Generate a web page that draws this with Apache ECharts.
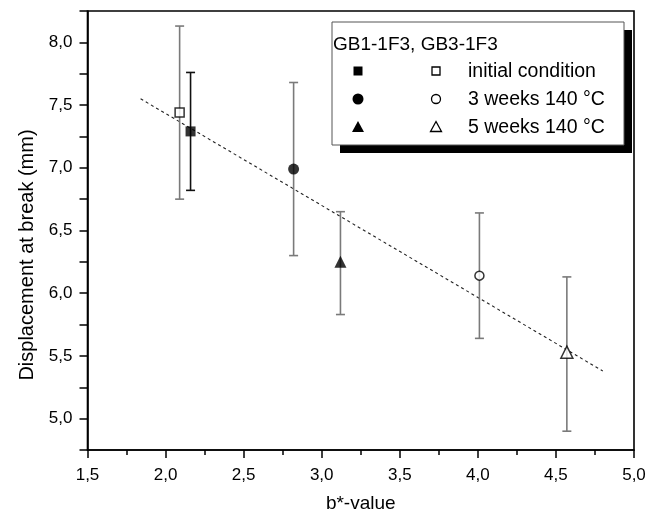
<!DOCTYPE html>
<html>
<head>
<meta charset="utf-8">
<script src="https://cdn.jsdelivr.net/npm/echarts@6/dist/echarts.min.js"></script>
<style>
  html, body { margin: 0; padding: 0; background: #fff; }
  #chart { width: 658px; height: 518px; }
</style>
</head>
<body>
<div id="chart"></div>
<script>
// Test stages (same order for both sample groups)
const stages = ['initial condition', '3 weeks 140 °C', '5 weeks 140 °C'];
const stageSymbols = ['rect', 'circle', 'triangle'];

// GB1-1F3 (filled markers): b*-value, mean displacement, error bar low / high
const gb1X  = [2.16, 2.82, 3.12];
const gb1Y  = [7.29, 6.99, 6.25];
const gb1Lo = [6.82, 6.30, 5.83];
const gb1Hi = [7.76, 7.68, 6.65];

// GB3-1F3 (open markers)
const gb3X  = [2.09, 4.01, 4.57];
const gb3Y  = [7.44, 6.14, 5.53];
const gb3Lo = [6.75, 5.64, 4.90];
const gb3Hi = [8.13, 6.64, 6.13];

// Linear trend line end points
const fitX = [1.84, 4.80];
const fitY = [7.55, 5.38];

// Tick labels
const xTicks = ['1,5', '2,0', '2,5', '3,0', '3,5', '4,0', '4,5', '5,0'];
const yTicks = ['5,0', '5,5', '6,0', '6,5', '7,0', '7,5', '8,0'];

const yTitle = 'Displacement at break (mm)';
const xTitle = 'b*-value';

const FONT = "'Liberation Sans', Arial, sans-serif";
const gb1ErrColors = ['#111111', '#7a7a7a', '#7a7a7a'];
const gb3ErrColors = ['#7a7a7a', '#7a7a7a', '#7a7a7a'];

const chart = echarts.init(document.getElementById('chart'), null, { renderer: 'canvas' });

function errSeries(xs, lo, hi, colors) {
  return {
    type: 'custom',
    z: 2,
    silent: true,
    encode: { x: 0, y: [1, 2] },
    data: xs.map((x, i) => [x, lo[i], hi[i]]),
    renderItem(params, api) {
      const x = api.value(0);
      const pLo = api.coord([x, api.value(1)]);
      const pHi = api.coord([x, api.value(2)]);
      const hw = 4.5;
      const style = { stroke: colors[params.dataIndex], lineWidth: 1.6 };
      return {
        type: 'group',
        children: [
          { type: 'line', shape: { x1: pLo[0], y1: pLo[1], x2: pHi[0], y2: pHi[1] }, style },
          { type: 'line', shape: { x1: pLo[0] - hw, y1: pLo[1], x2: pLo[0] + hw, y2: pLo[1] }, style },
          { type: 'line', shape: { x1: pHi[0] - hw, y1: pHi[1], x2: pHi[0] + hw, y2: pHi[1] }, style }
        ]
      };
    }
  };
}

function markerSize(sym, filled) {
  if (sym === 'triangle') return 12;
  if (sym === 'rect') return filled ? 10 : 9;
  return filled ? 11 : 9;
}

function pointSeries(xs, ys, filled) {
  return {
    type: 'scatter',
    z: 4,
    data: xs.map((x, i) => ({
      value: [x, ys[i]],
      symbol: stageSymbols[i],
      symbolSize: markerSize(stageSymbols[i], filled)
    })),
    itemStyle: filled
      ? { color: '#000', borderColor: '#000', borderWidth: 0 }
      : { color: '#fff', borderColor: '#000', borderWidth: 1.5 }
  };
}

// Legend box with drop shadow
const legendLeft = 332, legendTop = 22, legendW = 292, legendH = 123;
const rowY = [71, 99, 127];
const colFilled = 358, colOpen = 436, colText = 468;

const graphics = [
  { type: 'rect', shape: { x: legendLeft + 8, y: legendTop + 8, width: legendW, height: legendH }, style: { fill: '#000' }, z: 10 },
  { type: 'rect', shape: { x: legendLeft, y: legendTop, width: legendW, height: legendH }, style: { fill: '#fff', stroke: '#555', lineWidth: 1 }, z: 11 },
  { type: 'text', x: legendLeft + 1, y: 45, style: { text: 'GB1-1F3, GB3-1F3', font: '19px ' + FONT, fill: '#000', verticalAlign: 'middle', align: 'left' }, z: 12 },
  // y-axis title
  { type: 'text', x: 27, y: 255, rotation: Math.PI / 2, style: { text: yTitle, font: '20px ' + FONT, fill: '#000', align: 'center', verticalAlign: 'middle' }, z: 5 }
];
stages.forEach((name, i) => {
  const y = rowY[i];
  let filledShape, openShape;
  if (stageSymbols[i] === 'rect') {
    filledShape = { type: 'rect', shape: { x: colFilled - 4.5, y: y - 4.5, width: 9, height: 9 }, style: { fill: '#000' } };
    openShape = { type: 'rect', shape: { x: colOpen - 4, y: y - 4, width: 8, height: 8 }, style: { fill: '#fff', stroke: '#000', lineWidth: 1.3 } };
  } else if (stageSymbols[i] === 'circle') {
    filledShape = { type: 'circle', shape: { cx: colFilled, cy: y, r: 5.5 }, style: { fill: '#000' } };
    openShape = { type: 'circle', shape: { cx: colOpen, cy: y, r: 4.5 }, style: { fill: '#fff', stroke: '#000', lineWidth: 1.3 } };
  } else {
    filledShape = { type: 'polygon', shape: { points: [[colFilled, y - 6], [colFilled + 6, y + 5], [colFilled - 6, y + 5]] }, style: { fill: '#000' } };
    openShape = { type: 'polygon', shape: { points: [[colOpen, y - 5.5], [colOpen + 5.5, y + 4.5], [colOpen - 5.5, y + 4.5]] }, style: { fill: '#fff', stroke: '#000', lineWidth: 1.3 } };
  }
  filledShape.z = 12; openShape.z = 12;
  graphics.push(filledShape, openShape);
  graphics.push({ type: 'text', x: colText, y: y + 1, style: { text: name, font: '19.5px ' + FONT, fill: '#000', verticalAlign: 'middle', align: 'left' }, z: 12 });
});

function fmt(v, ticks) {
  const s = v.toFixed(1).replace('.', ',');
  return ticks.indexOf(s) >= 0 ? s : '';
}

const option = {
  animation: false,
  backgroundColor: '#fff',
  textStyle: { fontFamily: FONT },
  grid: {
    left: 87.5, right: 24, top: 11, bottom: 63,
    show: true, borderColor: '#000', borderWidth: 1.6, backgroundColor: 'transparent'
  },
  xAxis: {
    type: 'value',
    min: 1.5, max: 5.0, interval: 0.5,
    name: xTitle,
    nameLocation: 'middle',
    nameGap: 44,
    nameTextStyle: { fontSize: 19, color: '#000', fontFamily: FONT },
    axisLine: { show: true, onZero: false, lineStyle: { color: '#000', width: 1.6 } },
    axisTick: { show: true, inside: false, length: 8, lineStyle: { color: '#000', width: 1.5 } },
    minorTick: { show: true, splitNumber: 2, length: 5, lineStyle: { color: '#000', width: 1.5 } },
    axisLabel: { fontSize: 17, color: '#000', margin: 17, fontFamily: FONT, formatter: v => fmt(v, xTicks) },
    splitLine: { show: false }
  },
  yAxis: {
    type: 'value',
    min: 4.75, max: 8.25, interval: 0.25,
    axisLine: { show: true, onZero: false, lineStyle: { color: '#000', width: 1.6 } },
    axisTick: { show: true, inside: false, length: 8, lineStyle: { color: '#000', width: 1.5 } },
    axisLabel: { fontSize: 17, color: '#000', margin: 15, fontFamily: FONT, showMinLabel: true, showMaxLabel: true, formatter: v => fmt(v, yTicks) },
    splitLine: { show: false }
  },
  series: [
    {
      type: 'line',
      z: 1,
      silent: true,
      symbol: 'none',
      data: fitX.map((x, i) => [x, fitY[i]]),
      lineStyle: { color: '#222', width: 1.1, type: [3, 3] }
    },
    errSeries(gb3X, gb3Lo, gb3Hi, gb3ErrColors),
    errSeries(gb1X, gb1Lo, gb1Hi, gb1ErrColors),
    pointSeries(gb3X, gb3Y, false),
    pointSeries(gb1X, gb1Y, true)
  ],
  graphic: graphics
};

chart.setOption(option);
</script>
</body>
</html>
